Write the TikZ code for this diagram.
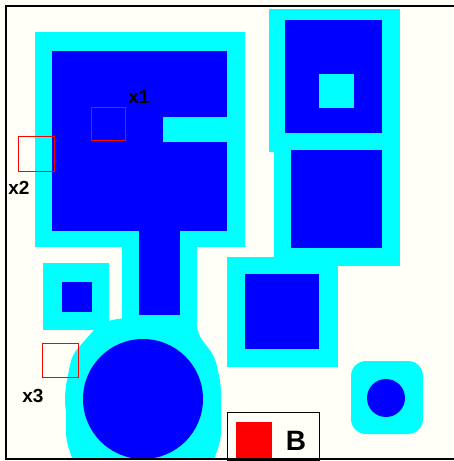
\documentclass[tikz,border=0pt]{standalone}
\usepackage{fontspec}
\setsansfont{Liberation Sans}
\usetikzlibrary{positioning}
\definecolor{paper}{HTML}{FFFFF8}
\definecolor{core}{HTML}{0000FF}
\definecolor{halo}{HTML}{00FFFF}
\definecolor{probered}{HTML}{FF0000}
\tikzset{
  haloarea/.style={fill=halo},
  corearea/.style={fill=core},
  probe/.style={draw=probered,line width=1pt},
  tag/.style={font=\sffamily\bfseries\fontsize{19}{21}\selectfont,text=black,inner sep=0pt},
  framebar/.style={draw=black,line width=2pt}
}
\begin{document}
\begin{tikzpicture}[x=1pt,y=-1pt]
\useasboundingbox (0,0) rectangle (454,461);
\fill[paper] (0,0) rectangle (454,461);

\begin{scope}
\clip (6,6) rectangle (454,459);
% halo zones
\fill[haloarea] (35,32) rectangle (245,247);
\fill[haloarea] (122,231) rectangle (197,324);
\fill[haloarea,rounded corners=8pt] (121,318) -- (100,323) -- (72,355) -- (66,385) -- (66,440) -- (76,470) -- (210,470) -- (221,440) -- (221,385) -- (215,357) -- (197,333) -- (197,318) -- cycle;
\fill[haloarea] (143,399) circle (78);
\fill[haloarea] (43,263) rectangle (109,330);
\fill[haloarea] (269,9) rectangle (400,152);
\fill[haloarea] (274,133) rectangle (400,266);
\fill[haloarea] (227,257) rectangle (338,367);
\fill[haloarea,rounded corners=15pt] (351,361) rectangle (423,434);

% core zones
\fill[corearea] (52,51) rectangle (227,231);
\fill[haloarea] (163,117) rectangle (227,142);
\fill[corearea] (139,231) rectangle (180,315);
\fill[corearea] (143,399) circle (60);
\fill[corearea] (62,282) rectangle (92,312);
\fill[corearea] (285,20) rectangle (382,133);
\fill[haloarea] (319,74) rectangle (354,108);
\fill[corearea] (291,150) rectangle (382,248);
\fill[corearea] (245,274) rectangle (319,349);
\fill[corearea] (386,398) circle (19);
\end{scope}

% probes
\draw[probe] (91,107) rectangle (125,140);
\draw[probe] (18,136) rectangle (54,171);
\draw[probe] (42,343) rectangle (78,377);
\node[tag] (x1) at (139,97) {x1};
\node[tag] (x2) at (19,188) {x2};
\node[tag] (x3) at (33,396) {x3};

% legend
\node[draw=black,line width=1pt,fill=paper,minimum width=92pt,minimum height=48pt,anchor=north west,inner sep=0pt] (legend) at (227,412) {};
\fill[probered] (236,422) rectangle (272,459);
\node[tag,font=\sffamily\bfseries\fontsize{28}{30}\selectfont] (lb) at (296,441) {B};

% frame
\draw[framebar] (454,6) -- (6,6) -- (6,459) -- (454,459);
\end{tikzpicture}
\end{document}
